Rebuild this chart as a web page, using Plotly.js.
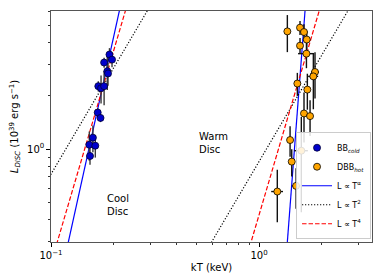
<!DOCTYPE html>
<html>
<head>
<meta charset="utf-8">
<script src="https://cdn.plot.ly/plotly-3.0.1.min.js"></script>
<style>html,body{margin:0;padding:0;background:#fff}#chart{width:382px;height:273px}</style>
</head>
<body>
<div id="chart"></div>
<script>
// Cool disc (BB_cold) points
const coolT  = [0.191, 0.1965, 0.180, 0.1865, 0.188, 0.1688, 0.174, 0.180, 0.1677, 0.173, 0.159, 0.1528, 0.1633, 0.154];
const coolL  = [3.43, 3.21, 3.09, 2.76, 2.68, 2.27, 2.21, 2.27, 1.61, 1.50, 1.16, 1.057, 1.044, 0.913];
const coolLe = [0.30, 0.30, 0.20, 0.60, 0.40, 0.15, 0.40, 0.50, 0.10, 0.08, 0.20, 0.20, 0.15, 0.10];
const coolTe = [0.004, 0.004, 0.003, 0.004, 0.003, 0.003, 0.003, 0.003, 0.002, 0.002, 0.003, 0.003, 0.003, 0.002];

// Warm disc (DBB_hot) points
const hotT  = [1.368, 1.574, 1.645, 1.696, 1.574, 1.69, 1.858, 1.824, 1.528, 1.707, 1.645, 1.759, 1.41, 1.597, 1.436, 1.507, 1.224];
const hotL  = [4.64, 4.87, 4.60, 4.17, 3.85, 3.47, 2.73, 2.58, 2.35, 2.17, 1.59, 1.536, 1.124, 0.978, 0.848, 0.618, 0.574];
const hotLe = [1.10, 0.45, 0.50, 0.50, 0.40, 0.60, 0.80, 0.90, 0.35, 0.50, 0.50, 0.35, 0.22, 0.54, 0.15, 0.16, 0.19];
const hotTe = [0.05, 0.03, 0.03, 0.04, 0.03, 0.15, 0.08, 0.10, 0.03, 0.05, 0.04, 0.04, 0.04, 0.12, 0.03, 0.07, 0.08];

// Power-law model lines: index and luminosity at the pivot temperature
const fitNames     = ['L \u221d T<sup>\u03b1</sup>', 'L \u221d T<sup>2</sup>', 'L \u221d T<sup>4</sup>'];
const coolIndex    = [5.34, 2, 4];
const coolPivotT   = 0.15;
const coolPivotL   = [0.93, 1.62, 1.14];
const coolRangeT   = [0.08, 0.5];
const hotIndex     = [15.4, 2, 4];
const hotPivotT    = 1.5;
const hotPivotL    = [1.23, 1.91, 2.14];
const hotRangeT    = [0.4, 4];

const xTickVals = [0.1, 1];
const xTickText = ['10<sup>\u22121</sup>', '10<sup>0</sup>'];
const yTickVals = [1];
const yTickText = ['10<sup>0</sup>'];

const lineStyles = [
  {color: '#0000ff', dash: 'solid', width: 1.2},
  {color: '#000000', dash: '1.2px,1.8px', width: 1.2},
  {color: '#ff0000', dash: '4.5px,2px', width: 1.2}
];

const traces = [];
function model(range, pivotT, pivotL, idx) {
  return range.map(t => pivotL * Math.pow(t / pivotT, idx));
}
for (let i = 0; i < 3; i++) {
  traces.push({
    x: coolRangeT, y: model(coolRangeT, coolPivotT, coolPivotL[i], coolIndex[i]),
    mode: 'lines', line: lineStyles[i], name: fitNames[i], showlegend: false, hoverinfo: 'skip'
  });
  traces.push({
    x: hotRangeT, y: model(hotRangeT, hotPivotT, hotPivotL[i], hotIndex[i]),
    mode: 'lines', line: lineStyles[i], name: fitNames[i], showlegend: false, hoverinfo: 'skip'
  });
}
const legendLines = [];
for (let i = 0; i < 3; i++) {
  legendLines.push({x: [null], y: [null], mode: 'lines', line: lineStyles[i], name: fitNames[i], showlegend: true});
}

const coolTrace = {
  x: coolT, y: coolL, mode: 'markers', name: 'BB<sub><i>cold</i></sub>',
  marker: {color: '#0000cc', size: 7, line: {color: '#000033', width: 0.8}},
  error_y: {type: 'data', array: coolLe, color: '#3a3a3a', thickness: 1.4, width: 0},
  error_x: {type: 'data', array: coolTe, color: '#3a3a3a', thickness: 1.4, width: 0}
};
const hotTrace = {
  x: hotT, y: hotL, mode: 'markers', name: 'DBB<sub><i>hot</i></sub>',
  marker: {color: '#ffa500', size: 7, line: {color: '#000000', width: 0.8}},
  error_y: {type: 'data', array: hotLe, color: '#111111', thickness: 1.4, width: 0},
  error_x: {type: 'data', array: hotTe, color: '#111111', thickness: 1.4, width: 0}
};

const data = traces.concat([coolTrace, hotTrace]).concat(legendLines);

const font = {family: 'DejaVu Sans', size: 10, color: '#000'};
const minorX = [0.2,0.3,0.4,0.5,0.6,0.7,0.8,0.9,2,3];
const minorY = [0.3,0.4,0.5,0.6,0.7,0.8,0.9,2,3,4,5,6];

const layout = {
  width: 382, height: 273,
  margin: {l: 51, r: 10, t: 11, b: 31},
  paper_bgcolor: '#fff', plot_bgcolor: '#fff',
  font: font,
  showlegend: true,
  xaxis: {
    type: 'log', range: [-1, 0.543], tickmode: 'array', tickvals: xTickVals, ticktext: xTickText,
    ticks: 'outside', ticklen: 3.5, tickwidth: 1, tickcolor: '#000',
    showgrid: false, zeroline: false, showline: true, mirror: true, linecolor: '#555', linewidth: 1.2,
    minor: {tickmode: 'array', tickvals: minorX, ticks: 'outside', ticklen: 2, tickwidth: 0.8, tickcolor: '#000', showgrid: false},
    title: {text: 'kT (keV)', font: font, standoff: 5},
    tickfont: font
  },
  yaxis: {
    type: 'log', range: [-0.527, 0.782], tickmode: 'array', tickvals: yTickVals, ticktext: yTickText,
    ticks: 'outside', ticklen: 3.5, tickwidth: 1, tickcolor: '#000',
    showgrid: false, zeroline: false, showline: true, mirror: true, linecolor: '#555', linewidth: 1.2,
    minor: {tickmode: 'array', tickvals: minorY, ticks: 'outside', ticklen: 2, tickwidth: 0.8, tickcolor: '#000', showgrid: false},
    title: {text: '<i>L</i><sub><i>DISC</i></sub> (10<sup>39</sup> erg s<sup>\u22121</sup>)', font: font, standoff: 6},
    tickfont: font
  },
  legend: {
    x: 0.997, y: 0.012, xanchor: 'right', yanchor: 'bottom',
    bgcolor: 'rgba(255,255,255,0.85)', bordercolor: '#ccc', borderwidth: 1,
    font: {family: 'DejaVu Sans', size: 8, color: '#000'},
    itemwidth: 30, tracegroupgap: 0
  },
  annotations: [
    {x: Math.log10(0.182), y: Math.log10(0.483), xref: 'x', yref: 'y', text: 'Cool<br>Disc', showarrow: false,
     xanchor: 'left', yanchor: 'middle', align: 'left', font: {family: 'DejaVu Sans', size: 10, color: '#000', lineheight: 0.9}},
    {x: Math.log10(0.503), y: Math.log10(1.08), xref: 'x', yref: 'y', text: 'Warm<br>Disc', showarrow: false,
     xanchor: 'left', yanchor: 'middle', align: 'left', font: {family: 'DejaVu Sans', size: 10, color: '#000', lineheight: 0.9}}
  ]
};

Plotly.newPlot('chart', data, layout, {staticPlot: true, displayModeBar: false});
</script>
</body>
</html>
